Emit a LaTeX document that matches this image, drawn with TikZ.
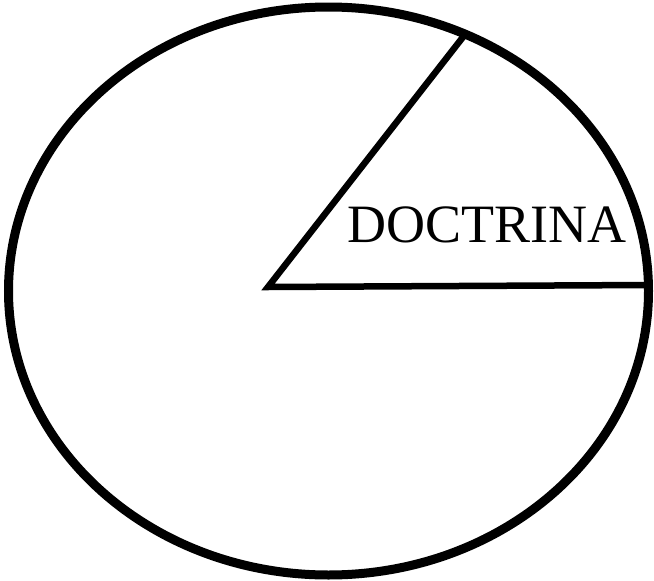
\documentclass[tikz,border=0pt]{standalone}
\usepackage{fontspec}
\setmainfont{Liberation Serif}
\begin{document}
\begin{tikzpicture}[x=1pt,y=-1pt,
  rim/.style={draw=black,line width=9pt},
  spoke/.style={draw=black,line width=6.5pt,line cap=butt},
  lbl/.style={font=\fontsize{54}{60}\selectfont,inner sep=0pt,anchor=base}]
\useasboundingbox (0,0) rectangle (654,581);
\coordinate (c) at (268,287);
\coordinate (p1) at (463,37);
\coordinate (p2) at (649,285);
\draw[rim] (328.5,291) ellipse [x radius=320,y radius=284];
\draw[spoke] (p1) -- (c) -- (p2);
\node[lbl] (t) at (487,242) {DOCTRINA};
\end{tikzpicture}
\end{document}
